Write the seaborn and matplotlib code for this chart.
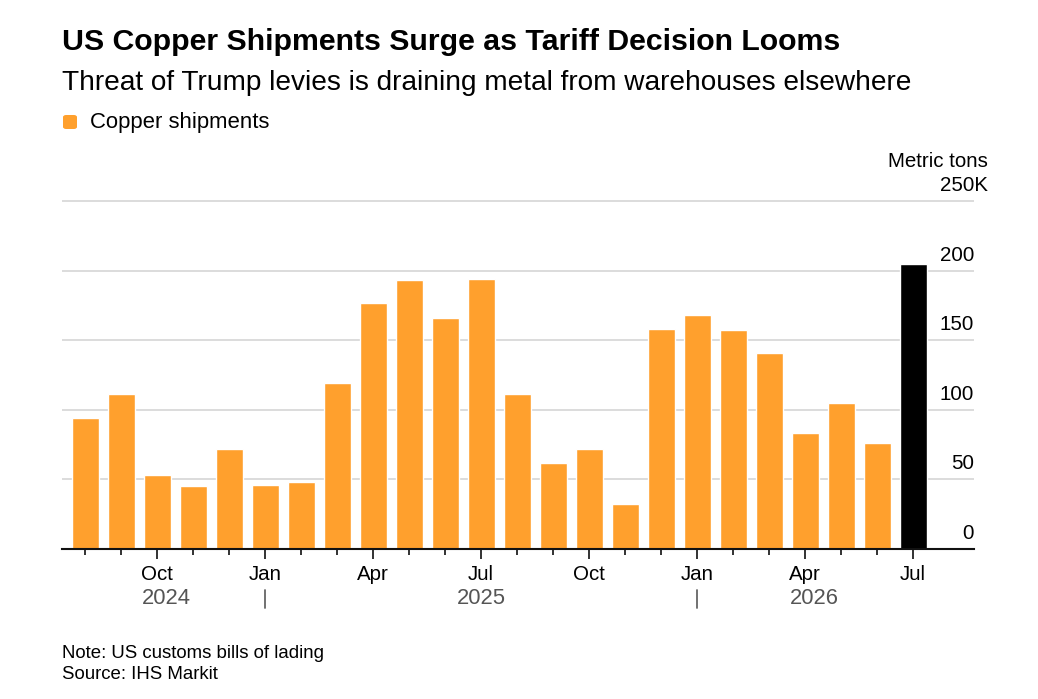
import matplotlib
matplotlib.use("Agg")
import matplotlib.pyplot as plt
import matplotlib.transforms as mtransforms
from matplotlib.patches import FancyBboxPatch
import seaborn as sns
import pandas as pd

# ---- data ----
months = ["2024-08", "2024-09", "2024-10", "2024-11", "2024-12",
          "2025-01", "2025-02", "2025-03", "2025-04", "2025-05", "2025-06",
          "2025-07", "2025-08", "2025-09", "2025-10", "2025-11", "2025-12",
          "2026-01", "2026-02", "2026-03", "2026-04", "2026-05", "2026-06",
          "2026-07"]
shipments = [94, 111, 53, 45, 72, 46, 48, 119, 177, 193, 166, 194,
             111, 62, 72, 32, 158, 168, 157, 141, 83, 105, 76, 205]
month_tick_labels = ["Oct", "Jan", "Apr", "Jul", "Oct", "Jan", "Apr", "Jul"]
month_tick_keys = ["2024-10", "2025-01", "2025-04", "2025-07",
                   "2025-10", "2026-01", "2026-04", "2026-07"]
year_labels = ["2024", "2025", "2026"]
y_ticks = [0, 50, 100, 150, 200, 250]
y_tick_labels = ["0", "50", "100", "150", "200", "250K"]

ORANGE = "#FFA02D"
FONT = "Liberation Sans"
TICK_FS = 14.8

sns.set_theme(style="white")
plt.rcParams["font.family"] = [FONT, "DejaVu Sans"]

df = pd.DataFrame({
    "pos": list(range(len(months))),
    "month": months,
    "value": shipments,
})
df["group"] = ["latest" if m == months[-1] else "past" for m in months]

W, H = 1038, 699
fig = plt.figure(figsize=(W / 100, H / 100), dpi=100)
ax_left, ax_right, ax_bottom_px = 62, 974, 549
px_per_unit = 1.392
ymax = 252
ax_top_px = ax_bottom_px - ymax * px_per_unit
ax = fig.add_axes([ax_left / W, 1 - ax_bottom_px / H,
                   (ax_right - ax_left) / W, (ax_bottom_px - ax_top_px) / H])

sns.barplot(data=df, x="pos", y="value", hue="group",
            palette={"past": ORANGE, "latest": "#000000"},
            dodge=False, legend=False, width=0.75, saturation=1,
            ax=ax, zorder=3)

ax.set_xlim(-0.64, len(months) - 1 + 61 / 36)
ax.set_ylim(0, ymax)
ax.set_xlabel("")
ax.set_ylabel("")

# grid
ax.set_yticks(y_ticks)
ax.set_yticklabels([])
ax.tick_params(axis="y", length=0)
ax.yaxis.grid(True, color="#d2d2d2", linewidth=1.1, zorder=0)
ax.xaxis.grid(False)
for s in ["top", "right", "left"]:
    ax.spines[s].set_visible(False)
ax.spines["bottom"].set_color("#111111")
ax.spines["bottom"].set_linewidth(1.5)
ax.spines["bottom"].set_zorder(4)

# y labels (right side, above gridlines)
for v, lab in zip(y_ticks, y_tick_labels):
    x_anchor = ax_right if lab != "250K" else ax_right + 14
    ax.text(1.0 + (x_anchor - ax_right) / (ax_right - ax_left),
            v + 10 / px_per_unit, lab,
            transform=mtransforms.blended_transform_factory(ax.transAxes, ax.transData),
            ha="right", va="baseline", fontsize=TICK_FS, color="#000000")
fig.text((ax_right + 14) / W, 1 - 167 / H, "Metric tons", ha="right",
         va="baseline", fontsize=TICK_FS, color="#000000")

# x ticks
pos_of = {m: i for i, m in enumerate(months)}
major_pos = [pos_of[k] for k in month_tick_keys]
minor_pos = [i for i in range(len(months)) if i not in major_pos]
ax.set_xticks(major_pos)
ax.set_xticklabels([])
ax.set_xticks(minor_pos, minor=True)
ax.tick_params(axis="x", which="major", length=7, width=1.3, color="#222222",
               direction="out", bottom=True)
ax.tick_params(axis="x", which="minor", length=4.5, width=1.3, color="#222222",
               direction="out", bottom=True)

bt = mtransforms.blended_transform_factory(ax.transData, ax.transAxes)
axh = ax_bottom_px - ax_top_px
for p, lab in zip(major_pos, month_tick_labels):
    ax.text(p, -(580 - ax_bottom_px) / axh, lab, transform=bt, ha="center",
            va="baseline", fontsize=TICK_FS, color="#000000")

# year labels and separators
jan_pos = [pos_of["2025-01"], pos_of["2026-01"]]
year_spans = [(-0.5, jan_pos[0]), (jan_pos[0], jan_pos[1]),
              (jan_pos[1], len(months) - 0.5)]
for (a, b), lab in zip(year_spans, year_labels):
    ax.text((a + b) / 2, -(604 - ax_bottom_px) / axh, lab, transform=bt,
            ha="center", va="baseline", fontsize=15.8, color="#555555")
for p in jan_pos:
    ax.plot([p, p], [-(590 - ax_bottom_px) / axh, -(608 - ax_bottom_px) / axh],
            transform=bt, color="#666666", lw=1.3, clip_on=False)

# title, subtitle
fig.text(62 / W, 1 - 50 / H, "US Copper Shipments Surge as Tariff Decision Looms",
         ha="left", va="baseline", fontsize=21.8, fontweight="bold", color="#000000")
fig.text(62 / W, 1 - 90 / H, "Threat of Trump levies is draining metal from warehouses elsewhere",
         ha="left", va="baseline", fontsize=20.2, color="#000000")

# legend
sq = FancyBboxPatch((63 / W, 1 - 129 / H), 14 / W, 14 / H,
                    boxstyle="round,pad=0,rounding_size=0.003",
                    transform=fig.transFigure, facecolor=ORANGE, edgecolor="none")
fig.patches.append(sq)
fig.text(90 / W, 1 - 128 / H, "Copper shipments", ha="left", va="baseline",
         fontsize=15.9, color="#000000")

# footer
fig.text(62 / W, 1 - 658 / H, "Note: US customs bills of lading", ha="left",
         va="baseline", fontsize=13.4, color="#000000")
fig.text(62 / W, 1 - 679 / H, "Source: IHS Markit", ha="left",
         va="baseline", fontsize=13.4, color="#000000")

fig.savefig("out.png", dpi=100, facecolor="white")
